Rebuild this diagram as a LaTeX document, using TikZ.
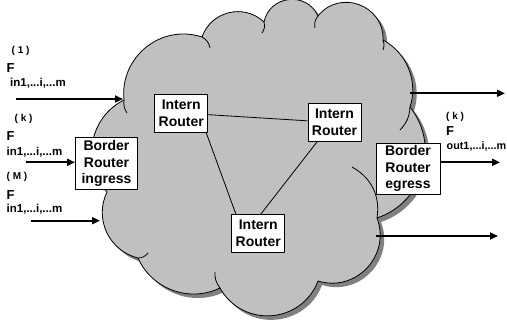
\documentclass[tikz,border=0pt]{standalone}
\usepackage{fontspec}
\setmainfont{Liberation Sans}
\usetikzlibrary{arrows.meta}

\definecolor{cloudgray}{RGB}{192,192,192}
\definecolor{shadowgray}{RGB}{128,128,128}

% Contorno de la nube (pulgadas en sentido horario)
\newcommand{\cloudoutline}{(124,-100)
  to[bend left=57, looseness=1.1] (202,-37)
  to[bend left=57, looseness=1.1] (264,-22)
  to[bend left=72, looseness=1.29] (318,-16)
  to[bend left=72, looseness=1.29] (383,-40)
  to[bend left=40, looseness=0.96] (410,-107)
  to[bend left=55, looseness=1.08] (377,-218)
  to[bend left=64, looseness=1.18] (318,-281)
  to[bend left=65, looseness=1.2] (220,-288)
  to[bend left=46, looseness=1.0] (138,-258)
  to[bend left=51, looseness=1.05] (107,-192)
  to[bend left=53, looseness=1.06] (124,-100) -- cycle}

\begin{document}
\begin{tikzpicture}[x=1pt, y=1pt, line join=round]
  \tikzset{
    intern_node/.style={rectangle, fill=white, draw, line width=0.9pt, inner sep=0pt, minimum width=53pt, minimum height=38pt, align=center, font=\fontsize{14}{17}\selectfont\bfseries},
    border_node/.style={rectangle, fill=white, draw, line width=0.9pt, inner sep=0pt, minimum width=62pt, minimum height=52pt, align=center, font=\fontsize{14}{16.5}\selectfont\bfseries},
    sup_lbl/.style={anchor=base west, inner sep=0pt, font=\fontsize{10}{11}\selectfont\bfseries},
    f_lbl/.style={anchor=base west, inner sep=0pt, font=\fontsize{13}{14}\selectfont\bfseries},
    sub_lbl/.style={anchor=base west, inner sep=0pt, font=\fontsize{11.5}{12}\selectfont\bfseries},
    flow/.style={line width=1.8pt, -{Triangle[length=8pt, width=7pt]}},
    link/.style={line width=0.8pt},
    cloud_arc/.style={line width=0.8pt}
  }

  \useasboundingbox (0,0) rectangle (507,-323);

  % Nube con sombra
  \fill[shadowgray, shift={(4,-4)}] \cloudoutline;
  \filldraw[fill=cloudgray, draw=black, line width=0.8pt] \cloudoutline;

  % Arcos interiores de la nube
  \draw[cloud_arc] (124,-100) to[bend right=20] (127,-113);
  \draw[cloud_arc] (202,-37) to[bend left=25] (210,-48);
  \draw[cloud_arc] (264,-22) to[bend left=25] (262,-33);
  \draw[cloud_arc] (318,-16) to[bend right=25] (315,-28);
  \draw[cloud_arc] (383,-40) to[bend left=20] (383,-50);
  \draw[cloud_arc] (410,-107) to[bend left=20] (400,-130);
  \draw[cloud_arc] (377,-218) to[bend right=35] (352,-167);
  \draw[cloud_arc] (220,-288) to[bend left=20] (215,-272);
  \draw[cloud_arc] (138,-258) to[bend right=25] (148,-253);

  % Routers internos
  \node[intern_node] (irl) at (181.2,-113) {Intern\\Router};
  \node[intern_node] (irr) at (334.5,-122.5) {Intern\\Router};
  \node[intern_node] (irb) at (258.3,-233.7) {Intern\\Router};

  % Routers de borde
  \node[border_node] (ingress) at (106.5,-163.5) {Border\\Router\\ingress};
  \node[border_node, minimum width=64pt, minimum height=51pt] (egress) at (408,-168.8) {Border\\Router\\egress};

  % Enlaces entre routers internos
  \draw[link] (irl) -- (irr);
  \draw[link] (irl.-38) -- (irb.139);
  \draw[link] (irr.-132) -- (irb.83);

  % Flujos de entrada
  \coordinate (in1_start) at (16,-99);
  \coordinate (in1_end) at (123,-99);
  \coordinate (in2_start) at (26,-162.3);
  \coordinate (in3_start) at (31,-220.7);
  \coordinate (in3_end) at (100,-220.7);
  \draw[flow] (in1_start) -- (in1_end);
  \draw[flow] (in2_start) -- (ingress.west |- in2_start);
  \draw[flow] (in3_start) -- (in3_end);

  % Flujos de salida
  \coordinate (out1_start) at (410,-93.3);
  \coordinate (out1_end) at (505,-93.3);
  \coordinate (out2_end) at (500,-162.3);
  \coordinate (out3_start) at (375.7,-236);
  \coordinate (out3_end) at (498,-236);
  \draw[flow] (out1_start) -- (out1_end);
  \draw[flow] (egress.east |- out2_end) -- (out2_end);
  \draw[flow] (out3_start) -- (out3_end);

  % Etiquetas de los flujos
  \node[sup_lbl] (sup1) at (11.5,-53.8) {( 1 )};
  \node[f_lbl] (f1) at (6.3,-72.3) {F};
  \node[sub_lbl] (sub1) at (10,-86.7) {in1,...i,...m};

  \node[sup_lbl] (supk) at (14.5,-122) {( k )};
  \node[f_lbl] (fk) at (6.3,-140.5) {F};
  \node[sub_lbl] (subk) at (6.5,-156) {in1,...i,...m};

  \node[sup_lbl] (supm) at (6.5,-179.5) {( M )};
  \node[f_lbl] (fm) at (6.3,-199.3) {F};
  \node[sub_lbl] (subm) at (6.5,-213) {in1,...i,...m};

  \node[sup_lbl] (supout) at (446,-119.5) {( k )};
  \node[f_lbl] (fout) at (446,-136) {F};
  \node[sub_lbl, font=\fontsize{10.8}{12}\selectfont\bfseries] (subout) at (446.5,-150) {out1,...i,...m};
\end{tikzpicture}
\end{document}
